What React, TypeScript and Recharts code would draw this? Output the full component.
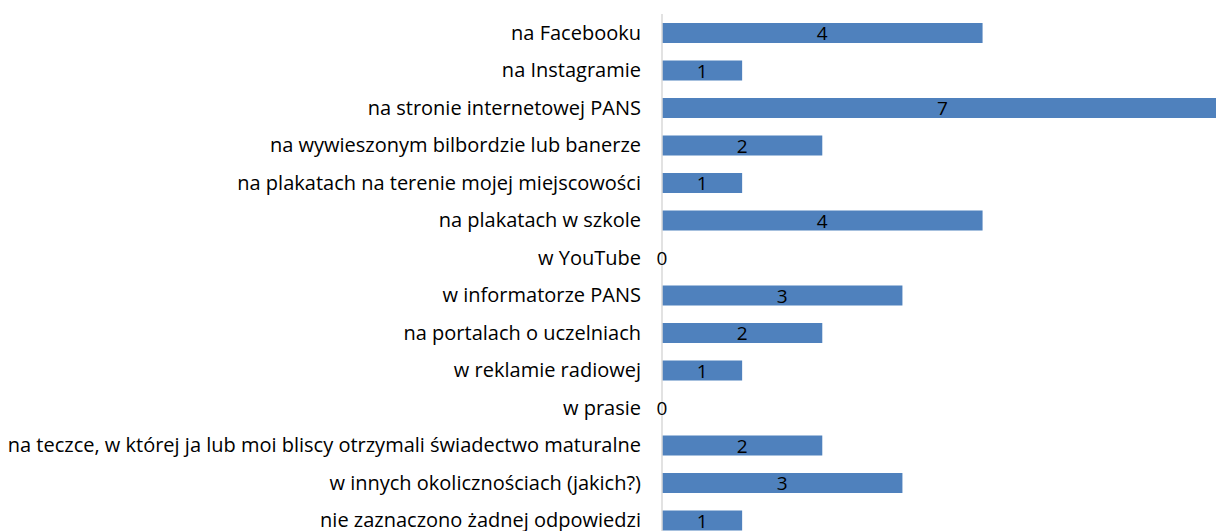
import React from 'react';
import { BarChart, Bar, XAxis, YAxis, LabelList } from 'recharts';

const categories = [
    'na Facebooku',
    'na Instagramie',
    'na stronie internetowej PANS',
    'na wywieszonym bilbordzie lub banerze',
    'na plakatach na terenie mojej miejscowości',
    'na plakatach w szkole',
    'w YouTube',
    'w informatorze PANS',
    'na portalach o uczelniach',
    'w reklamie radiowej',
    'w prasie',
    'na teczce, w której ja lub moi bliscy otrzymali świadectwo maturalne',
    'w innych okolicznościach (jakich?)',
    'nie zaznaczono żadnej odpowiedzi',
];

const counts = [4, 1, 7, 2, 1, 4, 0, 3, 2, 1, 0, 2, 3, 1];

const data = categories.map((name, i) => ({ name, value: counts[i] }));

const FONT = '"Open Sans", sans-serif';

const ValueLabel = (props: any) => {
    const { x, y, width, height, value } = props;
    return (
        <text
            x={Number(x) + Number(width) / 2}
            y={Number(y) + Number(height) / 2}
            textAnchor="middle"
            dominantBaseline="central"
            fill="#000"
            fontSize={19}
            fontFamily={FONT}
        >
            {value}
        </text>
    );
};

const App: React.FC = () => {
    return (
        <div style={{ position: 'fixed', left: 0, top: 0, width: 1216, height: 531, overflow: 'hidden', background: '#fff' }}>
            <BarChart
                width={1224}
                height={541}
                data={data}
                layout="vertical"
                margin={{ top: 14, right: 1, left: 0, bottom: 2 }}
            >
                <XAxis type="number" domain={[0, 7]} hide />
                <YAxis
                    type="category"
                    dataKey="name"
                    width={662}
                    axisLine={{ stroke: '#d9d9d9', strokeWidth: 1.5 }}
                    tickLine={false}
                    tickSize={0}
                    tickMargin={21}
                    interval={0}
                    tick={{ fill: '#000', fontSize: 20, fontFamily: FONT }}
                />
                <Bar dataKey="value" fill="#4f81bd" barSize={20} minPointSize={0.01} isAnimationActive={false}>
                    <LabelList dataKey="value" content={ValueLabel} />
                </Bar>
            </BarChart>
        </div>
    );
};

export default App;
